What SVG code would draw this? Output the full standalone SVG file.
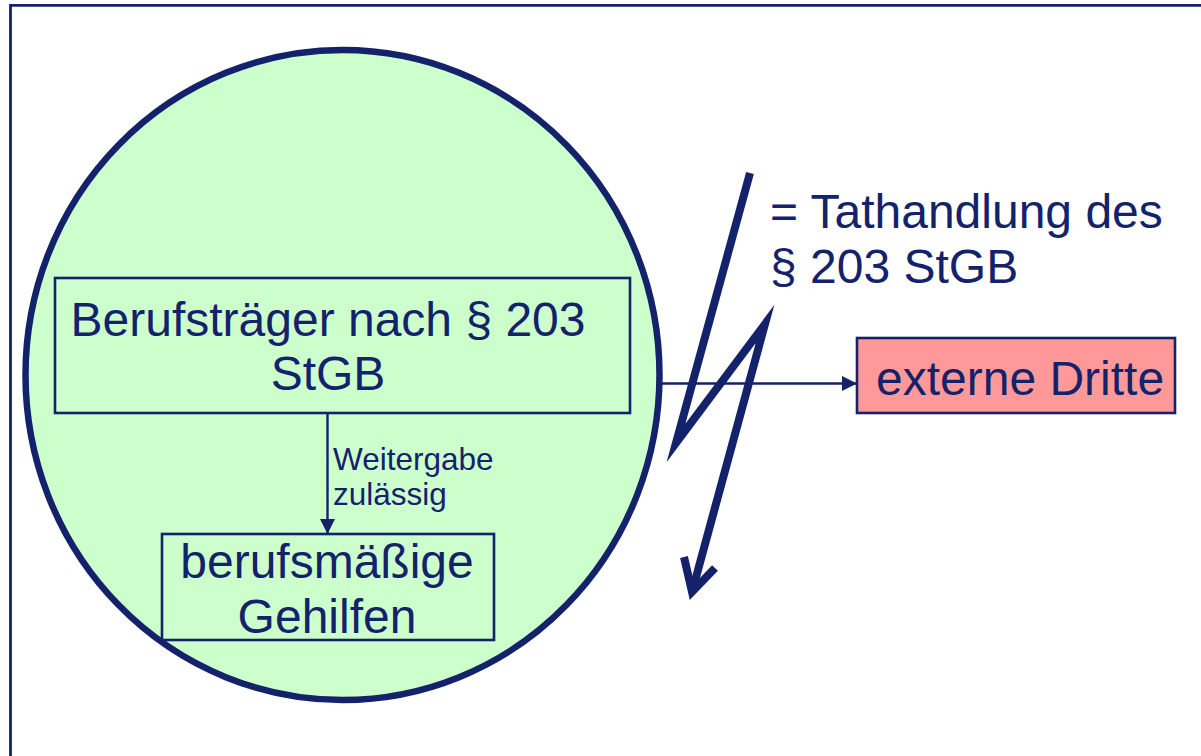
<svg xmlns="http://www.w3.org/2000/svg" width="1201" height="756" viewBox="0 0 1201 756">
<style>
.t{font-family:"Liberation Sans",Arial,sans-serif;fill:#13226A}
.big{font-size:48px}
.small{font-size:31.5px}
.box{stroke:#13226A;stroke-width:2.6}
.ln{stroke:#13226A;stroke-width:2.4;fill:none}
</style>
<defs>
<marker id="ah" markerWidth="16" markerHeight="16" refX="15" refY="7.5" orient="auto" markerUnits="userSpaceOnUse">
<path d="M0,0 L15,7.5 L0,15 Z" fill="#13226A"/>
</marker>
</defs>
<rect x="0" y="0" width="1201" height="756" fill="#ffffff"/>
<path d="M10.5,760 V5.3 H1205" fill="none" stroke="#13226A" stroke-width="2.8"/>
<g id="circle">
<ellipse cx="342.5" cy="375" rx="317" ry="325" fill="#CCFFCC" stroke="#13226A" stroke-width="6.5"/>
</g>
<g id="connectors">
<line class="ln" x1="327.5" y1="398" x2="327.5" y2="534" marker-end="url(#ah)"/>
<line class="ln" x1="662" y1="383.5" x2="857" y2="383.5" marker-end="url(#ah)"/>
</g>
<g id="node-berufstraeger">
<rect class="box" x="55" y="278" width="575" height="135" fill="#CCFFCC"/>
<text class="t big" x="328" y="336" text-anchor="middle">Berufsträger nach § 203</text>
<text class="t big" x="328" y="390" text-anchor="middle">StGB</text>
</g>
<g id="label-weitergabe">
<text class="t small" x="333" y="470">Weitergabe</text>
<text class="t small" x="333" y="505">zulässig</text>
</g>
<g id="node-gehilfen">
<rect class="box" x="162" y="534" width="332" height="106" fill="#CCFFCC"/>
<text class="t big" x="327" y="578" text-anchor="middle">berufsmäßige</text>
<text class="t big" x="327" y="633" text-anchor="middle">Gehilfen</text>
</g>
<g id="node-externe">
<rect class="box" x="857" y="338" width="318" height="75" fill="#FF9999"/>
<text class="t big" x="876" y="395">externe Dritte</text>
</g>
<g id="lightning">
<polyline points="750,173 676,443 765,324 692,592" fill="none" stroke="#13226A" stroke-width="8" stroke-linejoin="miter" stroke-miterlimit="10"/>
<polyline points="684,557 692,592 715,568" fill="none" stroke="#13226A" stroke-width="8" stroke-linejoin="miter"/>
</g>
<g id="label-tathandlung">
<text class="t big" x="770" y="228">= Tathandlung des</text>
<text class="t big" x="770" y="283">§ 203 StGB</text>
</g>
</svg>
